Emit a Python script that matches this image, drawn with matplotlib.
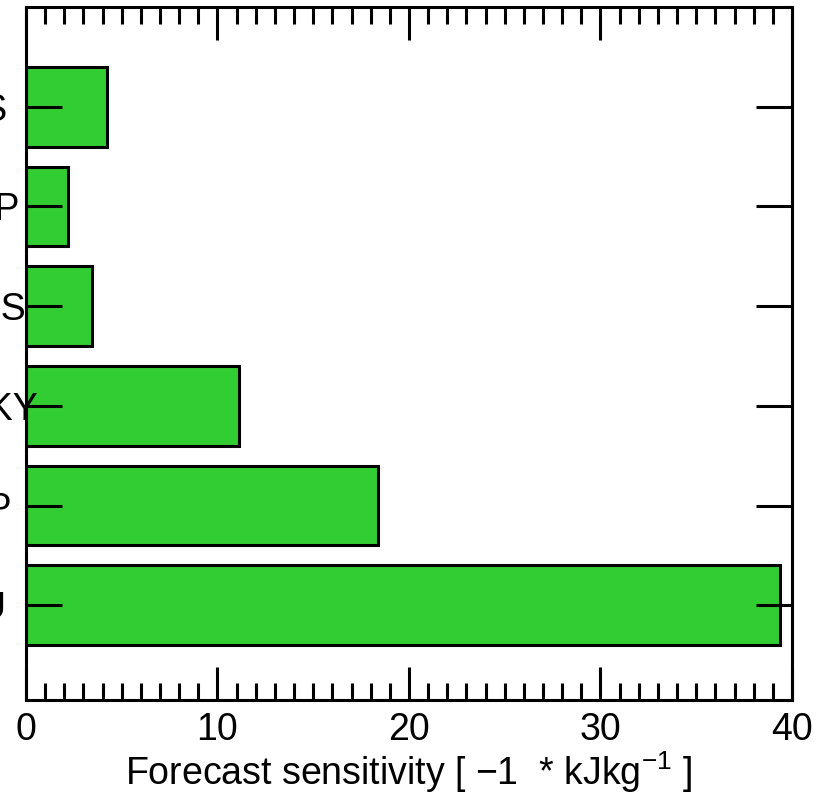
import matplotlib
matplotlib.use("Agg")
import matplotlib.pyplot as plt
from matplotlib.ticker import MultipleLocator
import numpy as np

# obs types, bottom to top
obs_types = ["SSU", "SHIP", "ALLSKY", "SSMIS", "TEMP", "GPS"]
sensitivity = [39.4, 18.4, 11.1, 3.45, 2.2, 4.25]

font = ["Liberation Sans", "DejaVu Sans"]
plt.rcParams["font.family"] = font
plt.rcParams["mathtext.fontset"] = "custom"
plt.rcParams["mathtext.rm"] = "Liberation Sans"

fig = plt.figure(figsize=(8.28, 8.02), dpi=100)
ax = fig.add_axes([0.0314, 0.1272, 0.9251, 0.8641])

ypos = np.arange(len(obs_types))
ax.barh(ypos, sensitivity, height=0.8, color="limegreen",
        edgecolor="black", linewidth=2.2, zorder=1)

ax.set_xlim(0, 40)
ax.set_ylim(-0.95, 6.0)
ax.xaxis.set_major_locator(MultipleLocator(10))
ax.xaxis.set_minor_locator(MultipleLocator(1))
ax.set_yticks(ypos)
ax.set_yticklabels(obs_types, ha="center", fontsize=27)

ax.tick_params(axis="x", which="major", direction="in", length=24, width=2.2,
               top=True, bottom=True, labelsize=27, pad=9)
ax.tick_params(axis="x", which="minor", direction="in", length=12, width=2.2,
               top=True, bottom=True)
ax.tick_params(axis="y", which="major", direction="in", length=26, width=2.2,
               left=True, right=True, pad=42)

for sp in ax.spines.values():
    sp.set_linewidth(2.2)
    sp.set_zorder(3)

ax.set_xlabel("Forecast sensitivity [ \u22121  * kJkg$^{\\mathregular{-1}}$ ]",
              fontsize=27, labelpad=1)

fig.savefig("out.png", dpi=100)
